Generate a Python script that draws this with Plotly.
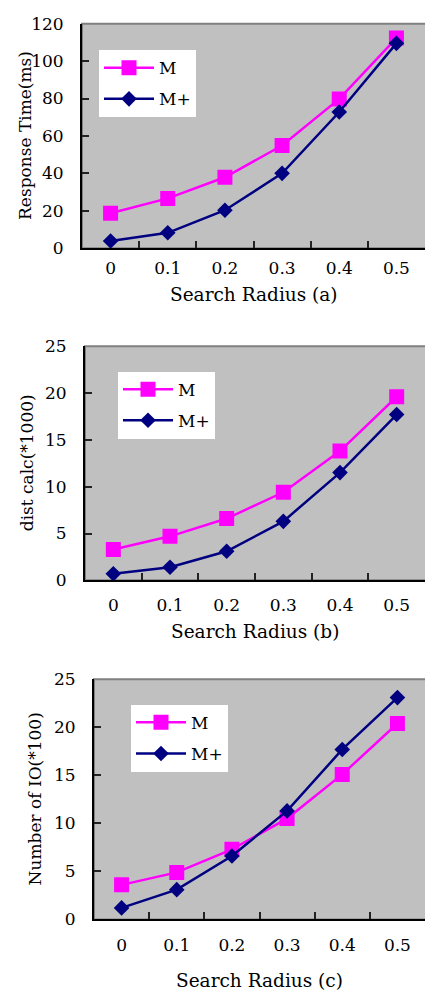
import plotly.graph_objects as go

# ---- data ----
radius_labels = ["0", "0.1", "0.2", "0.3", "0.4", "0.5"]

resp_M = [18.7, 26.6, 37.9, 54.9, 79.8, 112.3]
resp_Mplus = [3.8, 8.2, 20.3, 40.0, 72.8, 109.5]

dist_M = [3.3, 4.7, 6.6, 9.4, 13.8, 19.6]
dist_Mplus = [0.7, 1.4, 3.1, 6.3, 11.5, 17.7]

io_M = [3.6, 4.9, 7.3, 10.5, 15.1, 20.4]
io_Mplus = [1.2, 3.1, 6.6, 11.3, 17.7, 23.1]

series_names = ["M", "M+"]
y_titles = ["Response Time(ms)", "dist calc(*1000)", "Number of IO(*100)"]
x_titles = ["Search Radius (a)", "Search Radius (b)", "Search Radius (c)"]
y_ranges = [[0, 120], [0, 25], [0, 25]]
y_dticks = [20, 5, 5]

W, H = 425, 1000
FONT = "DejaVu Serif"
MAGENTA = "#FF00FF"
NAVY = "#000080"

# panel geometry in px: (left, top, bottom)
panels = [(82, 14, 243), (85, 343, 582), (94, 683, 928)]
legend_pos = [(99, 41), (118, 369), (131, 709)]
ytitle_x = [25, 27, 35]
xtitle_y = [290, 634, 990]
xtick_standoff = [3, 8, 9]

data_sets = [(resp_M, resp_Mplus), (dist_M, dist_Mplus), (io_M, io_Mplus)]

fig = go.Figure()
layout = dict(
    width=W, height=H,
    margin=dict(l=0, r=0, t=0, b=0),
    paper_bgcolor="white",
    plot_bgcolor="#C0C0C0",
    font=dict(family=FONT, size=17, color="black"),
    showlegend=True,
    shapes=[], annotations=[],
)

for i, (m_vals, mp_vals) in enumerate(data_sets):
    sfx = "" if i == 0 else str(i + 1)
    leg = "legend" if i == 0 else f"legend{i + 1}"
    fig.add_trace(go.Scatter(
        x=radius_labels, y=m_vals, name=series_names[0],
        mode="lines+markers", xaxis="x" + sfx, yaxis="y" + sfx,
        line=dict(color=MAGENTA, width=2.5),
        marker=dict(symbol="square", size=15, color=MAGENTA),
        legend=leg, legendgroup=f"g{i}a",
    ))
    fig.add_trace(go.Scatter(
        x=radius_labels, y=mp_vals, name=series_names[1],
        mode="lines+markers", xaxis="x" + sfx, yaxis="y" + sfx,
        line=dict(color=NAVY, width=2.5),
        marker=dict(symbol="diamond", size=12, color=NAVY),
        legend=leg, legendgroup=f"g{i}b",
    ))
    left, top, bottom = panels[i]
    xdom = [left / W, 1.0]
    ydom = [1 - bottom / H, 1 - top / H]
    layout["xaxis" + sfx] = dict(
        domain=xdom, anchor="y" + sfx, type="category",
        range=[-0.5, 5.5], tickson="boundaries",
        ticks="inside", ticklen=7, tickwidth=1.5, tickcolor="#222",
        showline=True, linecolor="black", linewidth=2,
        showgrid=False, zeroline=False,
        ticklabelstandoff=xtick_standoff[i],
        tickfont=dict(family=FONT, size=17),
    )
    layout["yaxis" + sfx] = dict(
        domain=ydom, anchor="x" + sfx,
        range=y_ranges[i], dtick=y_dticks[i],
        ticks="inside", ticklen=7, tickwidth=1.5, tickcolor="#222",
        showline=True, linecolor="black", linewidth=2,
        showgrid=False, zeroline=False,
        ticklabelstandoff=13,
        tickfont=dict(family=FONT, size=17),
    )
    layout["shapes"].append(dict(
        type="rect", xref=f"x{sfx} domain", yref=f"y{sfx} domain",
        x0=0, x1=1.05, y0=0, y1=1,
        line=dict(color="#808080", width=2), layer="below",
    ))
    lx, ly = legend_pos[i]
    layout[leg] = dict(
        x=lx / W, y=1 - ly / H, xanchor="left", yanchor="top",
        bgcolor="white", borderwidth=0,
        font=dict(family=FONT, size=17),
        tracegroupgap=6, itemwidth=50,
    )
    layout["annotations"].append(dict(
        text=y_titles[i], xref="paper", yref="paper",
        x=ytitle_x[i] / W, y=1 - (top + bottom) / 2 / H,
        textangle=-90, showarrow=False,
        font=dict(family=FONT, size=17),
        xanchor="center", yanchor="middle",
    ))
    layout["annotations"].append(dict(
        text=x_titles[i], xref="paper", yref="paper",
        x=(left + 425) / 2 / W, y=1 - xtitle_y[i] / H,
        showarrow=False, font=dict(family=FONT, size=18.5),
        xanchor="center", yanchor="middle",
    ))

fig.update_layout(**layout)
fig.write_html(
    "out.html",
    config={"displayModeBar": False},
    post_script="document.body.style.margin='0';document.body.style.overflow='hidden';",
)
